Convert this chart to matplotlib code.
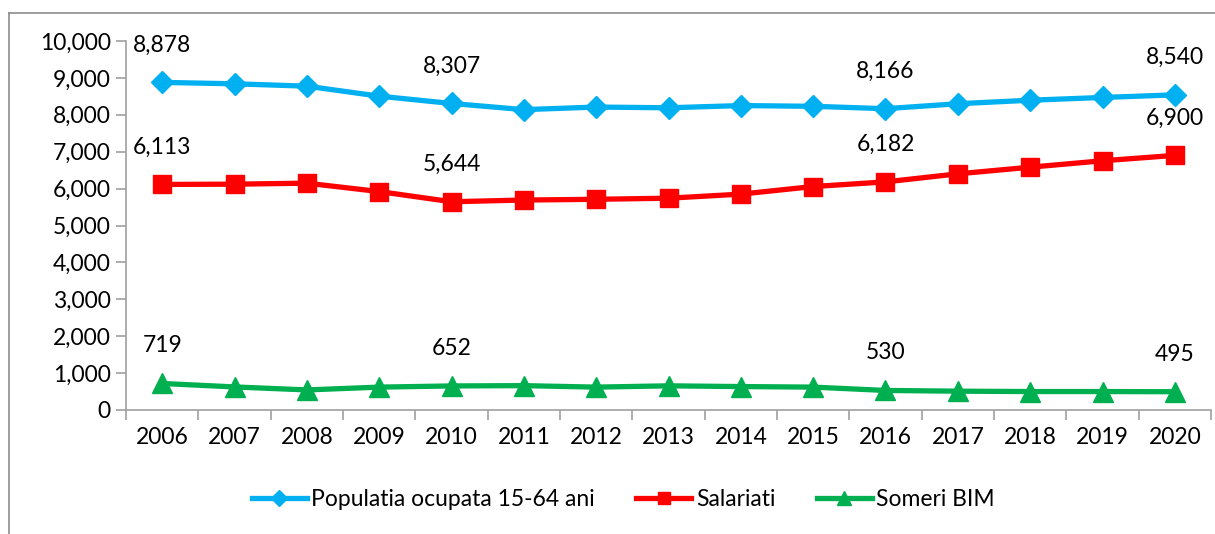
import matplotlib.pyplot as plt
from matplotlib.lines import Line2D
from matplotlib.ticker import FuncFormatter, FixedLocator
import numpy as np

plt.rcParams['font.family'] = ['Lato', 'DejaVu Sans']

years = ['2006', '2007', '2008', '2009', '2010', '2011', '2012', '2013',
         '2014', '2015', '2016', '2017', '2018', '2019', '2020']
populatia = [8878, 8840, 8776, 8505, 8307, 8140, 8210, 8190, 8250, 8230,
             8166, 8300, 8395, 8470, 8540]
salariati = [6113, 6120, 6147, 5920, 5644, 5690, 5710, 5740, 5850, 6056,
             6182, 6400, 6580, 6754, 6900]
someri = [719, 625, 544, 620, 652, 660, 620, 655, 635, 620,
          530, 510, 500, 500, 495]
label_idx = [0, 4, 10, 14]

FS = 16.5

fig = plt.figure(figsize=(12.15, 5.34), dpi=100)
ax = fig.add_axes([126 / 1215, 1 - 410 / 534, 1085 / 1215, 369 / 534])

x = np.arange(len(years))
series = [
    (populatia, '#00B0F0', 'D', 11, 'Populatia ocupata 15-64 ani'),
    (salariati, '#FF0000', 's', 13, 'Salariati'),
    (someri, '#00B050', '^', 14, 'Someri BIM'),
]
handles = []
for vals, col, mk, ms, name in series:
    ax.plot(x, vals, color=col, lw=3.8, marker=mk, markersize=ms,
            markeredgecolor=col)
    handles.append(Line2D([], [], color=col, lw=3.8, marker=mk,
                          markersize=ms * 0.7, markeredgecolor=col, label=name))
    for i in label_idx:
        ax.annotate(f'{vals[i]:,}', (x[i], vals[i]), xytext=(0, 27),
                    textcoords='offset points', ha='center', va='center',
                    fontsize=FS)

ax.set_xlim(-0.5, len(years) - 0.5)
ax.set_ylim(0, 10000)
ax.set_yticks(np.arange(0, 10001, 1000))
ax.yaxis.set_major_formatter(FuncFormatter(lambda v, p: f'{int(v):,}'))
ax.set_xticks(x)
ax.set_xticklabels(years)
ax.xaxis.set_minor_locator(FixedLocator(np.arange(-0.5, len(years), 1)))

for s in ['top', 'right']:
    ax.spines[s].set_visible(False)
for s in ['left', 'bottom']:
    ax.spines[s].set_color('#A0A0A0')
    ax.spines[s].set_linewidth(1.2)
ax.tick_params(axis='y', direction='out', length=7, color='#A0A0A0',
               width=1.2, labelsize=FS, pad=4)
ax.tick_params(axis='x', which='major', length=0, labelsize=FS, pad=12)
ax.tick_params(axis='x', which='minor', direction='out', length=7,
               color='#A0A0A0', width=1.2)

fig.legend(handles=handles, loc='center', bbox_to_anchor=(0.513, 0.064),
           ncol=3, frameon=False, fontsize=FS, handlelength=2.4,
           handletextpad=0.2, columnspacing=1.8)

# chart frame (cropped picture: left and top edges visible)
fig.add_artist(Line2D([9 / 1215, 9 / 1215], [0, 1 - 13 / 534],
                      transform=fig.transFigure, color='#8C8C8C', lw=1.2))
fig.add_artist(Line2D([9 / 1215, 1], [1 - 13 / 534, 1 - 13 / 534],
                      transform=fig.transFigure, color='#8C8C8C', lw=1.2))

fig.savefig('out.png', dpi=100)
